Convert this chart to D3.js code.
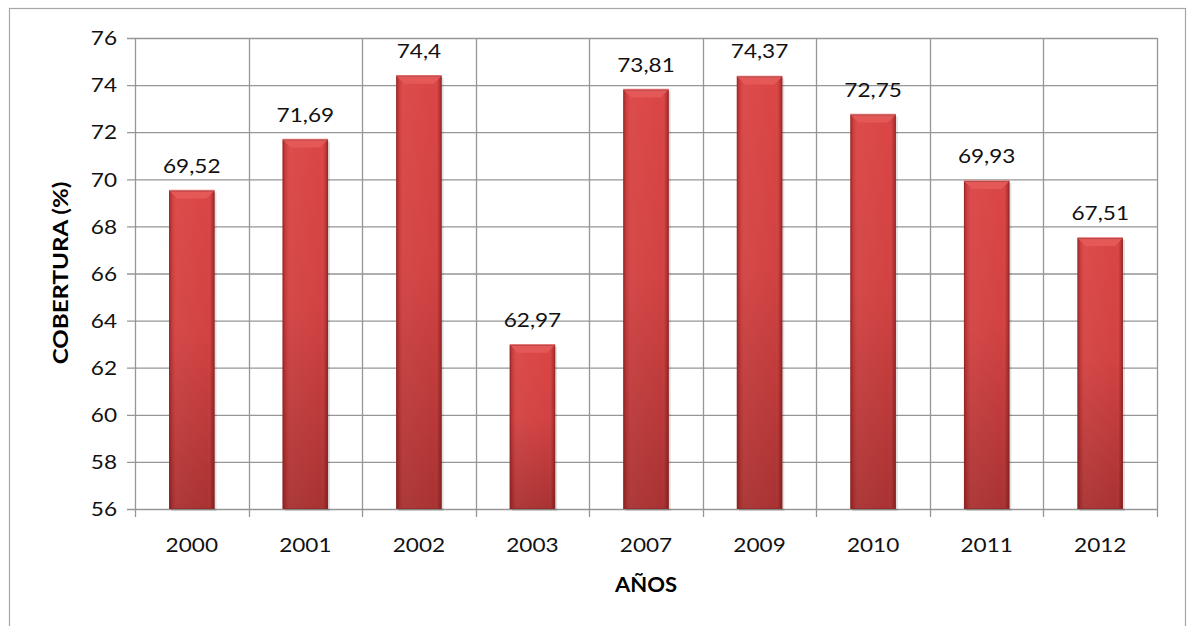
<!DOCTYPE html>
<html><head><meta charset="utf-8">
<script src="https://cdn.jsdelivr.net/npm/d3@7"></script>
<style>body{margin:0;background:#fff}svg{display:block}</style>
</head><body>
<script>
const years = ["2000","2001","2002","2003","2007","2009","2010","2011","2012"];
const coverage = [69.52,71.69,74.4,62.97,73.81,74.37,72.75,69.93,67.51];
const labels = ["69,52","71,69","74,4","62,97","73,81","74,37","72,75","69,93","67,51"];
const yTicks = [56,58,60,62,64,66,68,70,72,74,76];

const W=1187,H=626;
const m={l:135,r:1157,t:38,b:509};
const font="Lato, 'Open Sans', sans-serif";
const SX=1.13;
const svg=d3.select("body").append("svg").attr("width",W).attr("height",H);

svg.append("rect").attr("x",9.5).attr("y",8.5).attr("width",1176).attr("height",640)
  .attr("fill","#fff").attr("stroke","#a6a6a6").attr("stroke-width",1.2);

const x=d3.scaleBand().domain(years).range([m.l,m.r]).paddingInner(0.6).paddingOuter(0.3);
const xb=d3.scaleBand().domain(years).range([m.l,m.r]);
const y=d3.scaleLinear().domain([56,76]).range([m.b,m.t]);

const defs=svg.append("defs");
const gv=defs.append("linearGradient").attr("id","gv").attr("x1",0).attr("x2",0).attr("y1",0).attr("y2",1);
gv.append("stop").attr("offset","0").attr("stop-color","#db4545");
gv.append("stop").attr("offset","0.45").attr("stop-color","#d24242");
gv.append("stop").attr("offset","1").attr("stop-color","#a93232");
const gh=defs.append("linearGradient").attr("id","gh").attr("x1",0).attr("x2",1).attr("y1",0).attr("y2",0);
gh.append("stop").attr("offset","0").attr("stop-color","#400").attr("stop-opacity",0.35);
gh.append("stop").attr("offset","0.08").attr("stop-color","#400").attr("stop-opacity",0.05);
gh.append("stop").attr("offset","0.15").attr("stop-color","#fff").attr("stop-opacity",0.04);
gh.append("stop").attr("offset","0.85").attr("stop-color","#fff").attr("stop-opacity",0.0);
gh.append("stop").attr("offset","0.92").attr("stop-color","#400").attr("stop-opacity",0.08);
gh.append("stop").attr("offset","1").attr("stop-color","#400").attr("stop-opacity",0.4);

// gridlines
svg.append("g").selectAll("line").data(yTicks).join("line")
  .attr("x1",m.l-8).attr("x2",m.r).attr("y1",d=>y(d)+0.5).attr("y2",d=>y(d)+0.5)
  .attr("stroke","#969696").attr("stroke-width",1.3);
const bounds=years.map(d=>xb(d)).concat([m.r]);
svg.append("g").selectAll("line").data(bounds).join("line")
  .attr("x1",d=>Math.round(d)+0.5).attr("x2",d=>Math.round(d)+0.5)
  .attr("y1",m.t).attr("y2",m.b+8)
  .attr("stroke","#969696").attr("stroke-width",1.3);

// bars
const bw=x.bandwidth(), bv=8;
const bars=svg.append("g").selectAll("g").data(years).join("g");
bars.append("rect").attr("x",d=>x(d)+2).attr("width",bw)
  .attr("y",(d,i)=>y(coverage[i])+2).attr("height",(d,i)=>y(56)-y(coverage[i]))
  .attr("fill","#000").attr("opacity",0.12);
bars.append("rect").attr("x",d=>x(d)).attr("width",bw)
  .attr("y",(d,i)=>y(coverage[i])).attr("height",(d,i)=>y(56)-y(coverage[i]))
  .attr("fill","url(#gv)");
bars.append("rect").attr("x",d=>x(d)).attr("width",bw)
  .attr("y",(d,i)=>y(coverage[i])).attr("height",(d,i)=>y(56)-y(coverage[i]))
  .attr("fill","url(#gh)");
bars.append("path").attr("d",(d,i)=>{
    const x0=x(d), y0=y(coverage[i]);
    return `M${x0},${y0}L${x0+bw},${y0}L${x0+bw-bv},${y0+bv}L${x0+bv},${y0+bv}Z`;})
  .attr("fill","#e55858");
bars.append("path").attr("d",(d,i)=>{
    const x0=x(d), y0=y(coverage[i]);
    return `M${x0},${y0}L${x0+bw},${y0}`;})
  .attr("stroke","#f08080").attr("stroke-width",1.5);
bars.append("rect").attr("x",d=>x(d)+0.5).attr("width",bw-1)
  .attr("y",(d,i)=>y(coverage[i])+0.5).attr("height",(d,i)=>y(56)-y(coverage[i])-1)
  .attr("fill","none").attr("stroke","#8e2a2a").attr("stroke-opacity",0.6).attr("stroke-width",1);

// value labels
svg.append("g").selectAll("text").data(years).join("text")
  .attr("transform",(d,i)=>`translate(${x(d)+bw/2},${y(coverage[i])-18}) scale(${SX},1)`)
  .attr("text-anchor","middle").attr("font-family",font).attr("font-size",20).attr("fill","#111")
  .text((d,i)=>labels[i]);

// y tick labels
svg.append("g").selectAll("text").data(yTicks).join("text")
  .attr("transform",d=>`translate(${m.l-18},${y(d)}) scale(${SX},1)`).attr("dy","0.36em")
  .attr("text-anchor","end").attr("font-family",font).attr("font-size",20).attr("fill","#111")
  .text(d=>d);

// x tick labels
svg.append("g").selectAll("text").data(years).join("text")
  .attr("transform",d=>`translate(${xb(d)+xb.bandwidth()/2},552) scale(${SX},1)`)
  .attr("text-anchor","middle").attr("font-family",font).attr("font-size",20).attr("fill","#111")
  .text(d=>d);

svg.append("text").attr("transform",`translate(646,592) scale(1.1,1)`).attr("text-anchor","middle")
  .attr("font-family",font).attr("font-size",20).attr("font-weight","bold").text("AÑOS");
svg.append("text").attr("transform",`translate(68,273) rotate(-90) scale(1.15,1)`).attr("text-anchor","middle")
  .attr("font-family",font).attr("font-size",21).attr("font-weight","bold").text("COBERTURA (%)");
</script>
</body></html>
